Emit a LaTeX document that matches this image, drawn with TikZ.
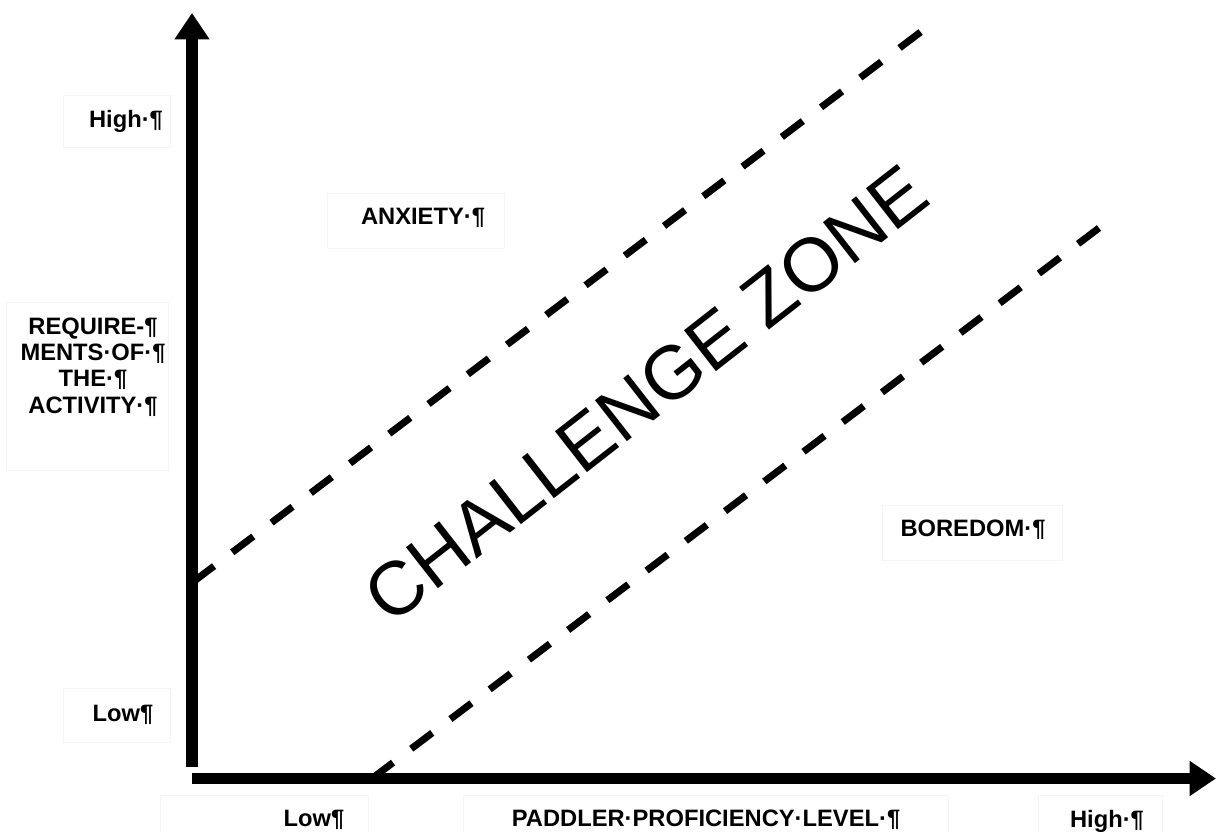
\documentclass[tikz,border=0pt]{standalone}
\usepackage{fontspec}
\setmainfont{Liberation Sans}
\usetikzlibrary{arrows.meta}

\begin{document}
\begin{tikzpicture}[
    axisline/.style={line width=6.3pt, -{Triangle[length=15pt, width=19pt]}},
    zoneline/.style={line width=4pt, dash pattern=on 15pt off 13pt},
    lbl/.style={font=\fontsize{13.5}{15}\selectfont\bfseries, anchor=base, inner sep=0pt},
    textframe/.style={draw=black!4, line width=0.5pt}
]
    \useasboundingbox (0,0) rectangle (24.34,16.64);

    % faint frames of the text boxes
    \draw[textframe] (1.26,13.70) rectangle (3.40,14.74);
    \draw[textframe] (0.12,7.24) rectangle (3.36,10.60);
    \draw[textframe] (1.26,1.80) rectangle (3.40,2.88);
    \draw[textframe] (6.54,11.68) rectangle (10.08,12.78);
    \draw[textframe] (17.64,5.44) rectangle (21.24,6.54);
    \draw[textframe] (3.20,-0.50) rectangle (7.36,0.74);
    \draw[textframe] (9.26,-0.50) rectangle (18.96,0.74);
    \draw[textframe] (20.76,-0.50) rectangle (23.24,0.74);

    \coordinate (yfoot) at (3.84,1.30);
    \coordinate (ytop) at (3.84,16.38);
    \coordinate (xfoot) at (3.84,1.07);
    \coordinate (xend) at (24.32,1.07);
    \coordinate (upA) at (3.86,5.00);
    \coordinate (upB) at (18.44,16.02);
    \coordinate (lowA) at (7.44,1.07);
    \coordinate (lowB) at (21.98,12.08);

    % borders of the challenge zone
    \draw[zoneline] (upA) -- (upB);
    \draw[zoneline] (lowA) -- (lowB);

    % axes
    \draw[axisline] (yfoot) -- (ytop);
    \draw[axisline] (xfoot) -- (xend);

    \node[lbl] (hiY) at (2.52,14.08) {High·¶};
    \node[lbl] (loY) at (2.46,2.20) {Low¶};
    \node[lbl, align=center, anchor=center] (reqs) at (1.86,9.30) {REQUIRE-¶\\MENTS·OF·¶\\THE·¶\\ACTIVITY·¶};
    \node[lbl] (anx) at (8.46,12.14) {ANXIETY·¶};
    \node[lbl] (bore) at (19.46,5.90) {BOREDOM·¶};
    \node[lbl] (loX) at (6.28,0.10) {Low¶};
    \node[lbl] (prof) at (14.12,0.10) {PADDLER·PROFICIENCY·LEVEL·¶};
    \node[lbl] (hiX) at (22.14,0.08) {High·¶};

    \node[rotate=38, font=\fontsize{43}{43}\selectfont] (zone) at (12.92,8.76) {CHALLENGE ZONE};
\end{tikzpicture}
\end{document}
